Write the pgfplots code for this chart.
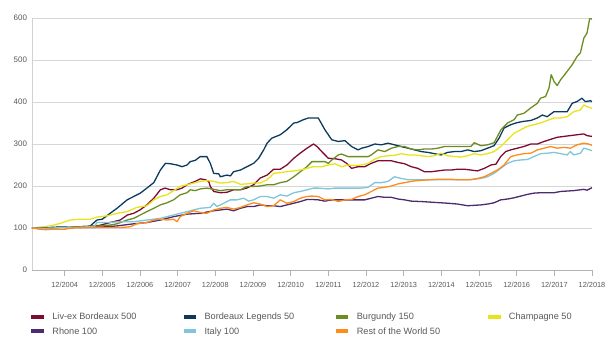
\documentclass[border=0pt]{standalone}
\usepackage{pgfplots}
\pgfplotsset{compat=1.18}
\usepackage{fontspec}
\setmainfont{Liberation Sans}
\definecolor{cLiv}{HTML}{7F0A33}
\definecolor{cLeg}{HTML}{0B3A5E}
\definecolor{cBur}{HTML}{6B8E23}
\definecolor{cCha}{HTML}{E8E41A}
\definecolor{cRho}{HTML}{4E2A6E}
\definecolor{cIta}{HTML}{7FC5DC}
\definecolor{cRow}{HTML}{FF8C1A}
\definecolor{cTxt}{HTML}{595959}
\newcommand{\lgent}[1]{\makebox[131.3bp][l]{\strut #1}}
\begin{document}
\begin{tikzpicture}
\path[use as bounding box] (-32bp,-81bp) rectangle (583bp,270bp);
\begin{axis}[
  at={(0,0)}, anchor=south west, scale only axis,
  width=560bp, height=252bp,
  xmin=1.6, xmax=180, ymin=0, ymax=600,
  axis x line*=bottom, axis y line*=left,
  x axis line style={draw=black!30, line width=0.8bp},
  y axis line style={draw=black!18, line width=0.8bp},
  ymajorgrids, grid style={draw=black!16, line width=0.9bp},
  ytick={0,100,...,600},
  xtick={12,24,...,180},
  xticklabels={12/2004,12/2005,12/2006,12/2007,12/2008,12/2009,12/2010,12/2011,12/2012,12/2013,12/2014,12/2015,12/2016,12/2017,12/2018},
  tick align=outside, major tick length=5.5bp,
  ytick style={draw=none}, xtick style={draw=black!30, line width=0.7bp},
  tick label style={text=cTxt},
  yticklabel style={font=\fontsize{8}{9}\selectfont, xshift=4bp},
  xticklabel style={font=\fontsize{7.4}{9}\selectfont, yshift=-3bp},
  /pgf/number format/assume math mode=true,
  every axis plot/.append style={line width=1.3bp, line join=round},
  legend columns=4,
  legend cell align=left,
  legend image code/.code={\fill[#1, draw=none] (0bp,-2bp) rectangle (12.5bp,2bp); \path[draw=none, fill=none] (0bp,0bp) -- (20.9bp,0bp);},
  legend style={at={(axis description cs:0,0)}, anchor=north west, yshift=-42bp, xshift=-0.7bp,
    draw=none, fill=none, inner sep=0pt, column sep=0pt, row sep=5.2bp,
    nodes={inner sep=0pt, text=cTxt, font=\fontsize{9.2}{11}\selectfont}},
]
\addplot[cLiv] coordinates {(1.6,100)(5,99)(8,101)(11,102)(14,101)(17,103)(20,104)(23,106)(26.5,113)(29.7,119)(32,131)(34,135)(36,143)(38.2,155)(40.4,171)(42.5,191)(44,195)(45.7,191)(47.8,191)(49.4,195)(51,203)(52.6,208)(53.6,211)(55.2,217)(56.8,215)(57.9,211)(58.4,199)(59.5,187)(61.6,184)(63.7,185)(65.8,191)(68,191)(70,195)(72.2,203)(74.3,219)(76.5,226)(78.6,240)(80.7,240)(82.8,250)(85,266)(87,278)(89.2,290)(91.3,300)(92.4,294)(93.9,282)(96,266)(98.1,265)(100.2,262)(101.8,254)(103.4,242)(105.5,246)(107.6,246)(109.7,254)(111.8,260)(114,260)(116.1,260)(118.2,256)(120.3,253)(122.4,246)(124.5,242)(126.6,234)(128.8,234)(130.9,236)(133,238)(135.1,238)(137.2,240)(139.3,240)(141.4,238)(143.5,236)(145.7,242)(147.8,250)(149.4,252)(150.9,270)(152.5,282)(154.1,286)(156.2,290)(158.3,294)(160.5,300)(162.6,300)(164.7,306)(166.8,311)(168.9,316)(171,318)(173.1,320)(175.2,322)(177.4,324)(178.4,320)(180,318)};
\addlegendentry{\lgent{Liv-ex Bordeaux 500}}
\addplot[cLeg] coordinates {(1.6,100)(5,100)(8,101)(11,102)(14,101)(17,103)(20,104)(22.3,119)(24,121)(26.5,135)(28.7,147)(31.9,167)(34,175)(36.1,183)(38.2,195)(40.4,208)(42.5,238)(44.1,254)(45.7,253)(47.8,250)(49.4,246)(51,250)(52,258)(53.6,261)(55.2,270)(57.3,270)(58.4,254)(59.5,230)(61.1,229)(61.6,222)(63.7,226)(64.8,224)(65.8,234)(68,238)(70.1,246)(72.2,254)(73.8,266)(75.4,286)(76.5,302)(78,314)(80.7,322)(82.8,334)(85,350)(86,351)(88.1,358)(89.7,362)(91.3,362)(92.8,362)(94.9,334)(97.1,310)(99.2,306)(101.3,308)(103.4,294)(105.5,286)(106.6,290)(108.7,294)(110.8,300)(112.9,298)(115,302)(117.1,298)(119.2,294)(121.4,290)(123.5,286)(125.6,282)(127.7,280)(129.8,277)(131.9,274)(134,280)(136.2,282)(138.3,282)(140.4,286)(142.5,282)(144.6,284)(146.7,290)(148.8,296)(150.4,314)(152,338)(154.1,346)(156.2,351)(158.3,354)(160.5,356)(162.6,362)(164.2,369)(165.7,365)(167.9,377)(170,377)(172.1,377)(173.7,397)(175.2,401)(176.8,409)(177.9,401)(179.5,403)(180,401)};
\addlegendentry{\lgent{Bordeaux Legends 50}}
\addplot[cBur] coordinates {(1.6,100)(5,100)(8,101)(11,102)(14,102)(17,103)(20,104)(23.4,105)(26.5,107)(28.7,110)(31.9,119)(34,123)(36.1,131)(38.2,139)(40.4,147)(42.5,155)(44.6,160)(46.7,167)(48.8,179)(51,184)(52,191)(53.6,189)(55.2,193)(57.3,195)(59.5,192)(61.6,189)(63.7,191)(65.8,191)(68,191)(70.1,199)(72.2,199)(74.3,200)(76.5,203)(78.6,203)(80.7,208)(82.8,211)(85,222)(87.1,234)(89.2,246)(90.8,258)(92.8,258)(94.9,258)(96,254)(97.1,262)(99.2,274)(100.2,276)(102.3,270)(104.5,270)(106.6,270)(108.7,270)(109.7,274)(111.8,286)(114,282)(116.1,290)(118.2,294)(120.3,294)(122.4,288)(124.5,286)(126.6,288)(128.8,288)(130.9,290)(133,294)(135.1,294)(137.2,294)(139.3,294)(141.4,294)(142.5,303)(144.6,296)(146.7,298)(148.8,303)(151,334)(153.1,350)(155.2,358)(156.2,369)(158.3,373)(160.5,386)(162.6,397)(163.6,409)(165.2,413)(166.3,433)(167,465)(167.9,449)(168.9,439)(170,453)(172.1,473)(173.7,489)(175.3,509)(176.3,517)(177.4,552)(178.4,564)(179.3,600)(180,597)};
\addlegendentry{\lgent{Burgundy 150}}
\addplot[cCha] coordinates {(1.6,100)(5.3,103)(8,106)(10.6,111)(13.8,119)(17,121)(20.2,121)(22.3,126)(25.5,129)(28.7,135)(31.9,139)(35,149)(38.2,153)(40.4,167)(42.5,175)(44.6,179)(46.7,189)(48.8,199)(51,203)(53.1,207)(55.2,211)(57.3,213)(59.5,211)(61.6,207)(63.7,208)(65.8,211)(68,204)(70.1,205)(72.2,207)(74.3,207)(76.5,215)(78.6,230)(80.7,232)(82.8,234)(85,236)(87.1,238)(89.2,242)(91.3,246)(93.9,246)(96,250)(98.1,253)(100.2,246)(102.3,250)(104.5,249)(106.6,250)(108.7,254)(110.8,264)(112.9,270)(115,272)(117.1,273)(119.2,277)(121.4,274)(123.5,274)(125.6,272)(127.7,270)(129.8,272)(131.9,278)(134,272)(136.2,270)(138.3,269)(140.4,272)(142.5,277)(144.6,274)(146.7,277)(148.8,282)(150.9,294)(153.1,310)(155.2,326)(157.3,334)(159.4,342)(161.5,346)(163.6,350)(165.7,356)(167.9,362)(170,362)(172.1,365)(174.2,377)(176.3,381)(177.4,393)(178.4,389)(180,385)};
\addlegendentry{\strut Champagne 50}
\addplot[cRho] coordinates {(1.6,100)(5,100)(8,101)(11,102)(14,101)(17,102)(20,101)(23.4,102)(28.7,105)(34,110)(38.2,113)(42.5,119)(46.7,127)(51,133)(55.2,135)(59.5,141)(63.7,145)(65.8,141)(68,147)(70.1,151)(72.2,151)(74.3,155)(76.5,153)(78.6,153)(80.7,151)(82.8,155)(85,159)(87.1,163)(89.2,168)(90.7,168)(92.8,167)(94.9,164)(97.1,167)(100.2,167)(104.5,167)(107.6,167)(109.7,171)(111.8,175)(114,173)(116.1,173)(118.2,169)(120.3,167)(122.4,164)(125.6,163)(129.8,161)(134,159)(137.2,157)(140.4,153)(142.5,154)(144.6,155)(146.7,157)(148.8,160)(150.9,167)(153.1,169)(155.2,172)(157.3,176)(159.4,180)(161.5,183)(163.6,184)(165.7,184)(167.9,184)(170,187)(172.1,188)(174.2,189)(176.3,191)(177.4,192)(178.4,190)(180,196)};
\addlegendentry{\lgent{Rhone 100}}
\addplot[cIta] coordinates {(1.6,100)(5,99)(8,100)(11,101)(14,101)(17,102)(20,103)(21.5,104)(22.3,113)(25.5,113)(29.7,115)(34,115)(38.2,119)(42.5,123)(46.7,131)(51,139)(55.2,147)(58.4,149)(59.5,159)(60.5,151)(62.7,159)(64.8,167)(66.9,167)(69,171)(70.6,164)(72.2,167)(74.3,175)(76.5,175)(78.6,171)(80.7,179)(82.8,176)(85,184)(87.1,187)(89.2,191)(91.3,195)(92.8,195)(96,193)(98.1,195)(100.2,195)(102.3,195)(104.5,195)(106.6,195)(108.7,197)(110.8,208)(112.9,208)(115,211)(117.1,222)(119.2,218)(121.4,215)(123.5,215)(125.6,215)(127.7,215)(129.8,215)(131.9,215)(134,215)(136.2,215)(138.3,215)(140.4,215)(142.5,216)(144.6,218)(146.7,222)(148.8,230)(150.9,242)(153.1,254)(155.2,260)(157.3,262)(159.4,263)(161.5,270)(163.6,277)(165.7,278)(167.9,280)(170,277)(172.1,274)(173.1,282)(174.2,274)(176.3,278)(177.4,290)(178.4,288)(180,284)};
\addlegendentry{\lgent{Italy 100}}
\addplot[cRow] coordinates {(1.6,100)(4,97)(6,96)(8,97)(10,97)(12,97)(14.9,101)(17,100)(20,102)(23.4,101)(26.5,101)(29.7,101)(32.9,103)(35,110)(38.2,113)(40.4,119)(42.5,121)(44.6,119)(46.7,121)(47.8,115)(48.8,127)(51,135)(53.1,141)(55.2,137)(57.3,135)(59.5,143)(61.6,147)(63.7,149)(65.8,145)(68,149)(70.1,155)(72.2,160)(74.3,157)(76.5,151)(78.6,153)(80.7,167)(82.8,159)(85,163)(87.1,171)(89.2,175)(90.7,176)(92.8,175)(94.9,167)(97.1,168)(99.2,163)(101.3,167)(103.4,168)(105.5,175)(107.6,179)(109.7,187)(111.8,195)(114,197)(116.1,200)(118.2,205)(120.3,208)(122.4,211)(124.5,213)(126.6,214)(128.8,215)(130.9,216)(133,216)(135.1,216)(137.2,215)(139.3,215)(141.4,215)(143.5,218)(145.7,222)(147.8,230)(149.9,238)(152,250)(154.1,270)(156.2,274)(158.3,277)(160.5,278)(162.6,286)(164.7,290)(166.8,294)(168.9,290)(171,292)(173.1,290)(175.2,298)(177.4,302)(178.9,300)(180,297)};
\addlegendentry{\lgent{Rest of the World 50}}
\end{axis}
\end{tikzpicture}
\end{document}
